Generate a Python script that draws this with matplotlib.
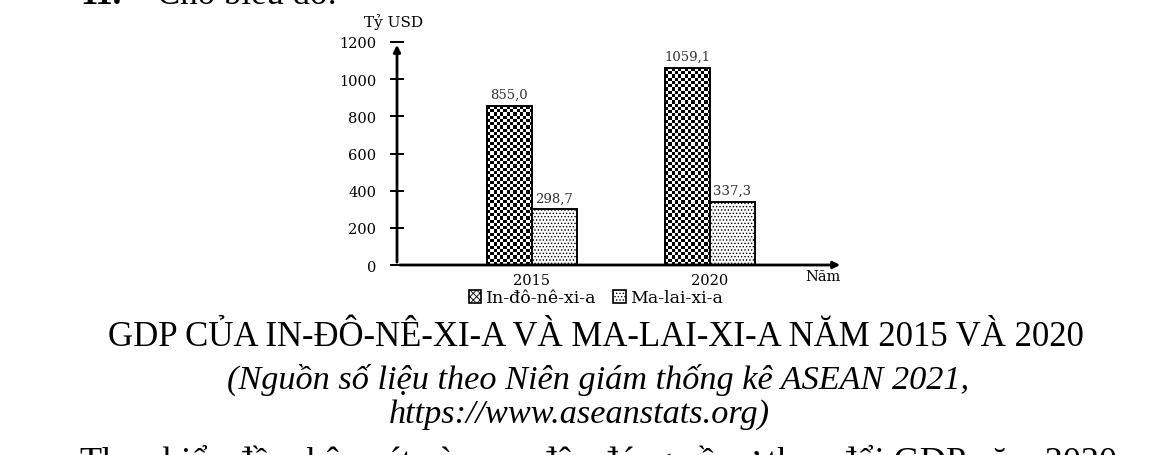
import matplotlib.pyplot as plt
import numpy as np
from matplotlib.patches import Patch

years = ['2015', '2020']
indonesia = [855.0, 1059.1]
malaysia = [298.7, 337.3]
series_names = ['In-đô-nê-xi-a', 'Ma-lai-xi-a']
yticks = [0, 200, 400, 600, 800, 1000, 1200]

title = 'GDP CỦA IN-ĐÔ-NÊ-XI-A VÀ MA-LAI-XI-A NĂM 2015 VÀ 2020'
source1 = '(Nguồn số liệu theo Niên giám thống kê ASEAN 2021,'
source2 = 'https://www.aseanstats.org)'
question_no = '11.'
top_line = 'Cho biểu đồ:'
bottom_line = 'Theo biểu đồ, nhận xét nào sau đây đúng về sự thay đổi GDP năm 2020'

plt.rcParams['font.family'] = ['Liberation Serif', 'DejaVu Serif']
plt.rcParams['hatch.linewidth'] = 0.6
CHART_FONT = ['DejaVu Serif']


def fmt(v):
    return '{:.1f}'.format(v).replace('.', ',')


def checker_fill(ax, bar, cols=14):
    # checkerboard image clipped to the bar
    x0, y0 = bar.get_x(), bar.get_y()
    w, h = bar.get_width(), bar.get_height()
    px_w = ax.transData.transform((w, 0))[0] - ax.transData.transform((0, 0))[0]
    px_h = ax.transData.transform((0, h))[1] - ax.transData.transform((0, 0))[1]
    rows = max(1, int(round(px_h / (px_w / cols))))
    grid = (np.add.outer(np.arange(rows), np.arange(cols)) % 2).astype(float)
    im = ax.imshow(grid, extent=(x0, x0 + w, y0, y0 + h), cmap='gray',
                   interpolation='nearest', aspect='auto', zorder=2)
    im.set_clip_path(bar)


fig = plt.figure(figsize=(11.52, 4.56), dpi=100)
ax = fig.add_axes([397 / 1152, 1 - 266 / 456, (843 - 397) / 1152, (266 - 43) / 456])

x = np.arange(len(years))
w = 0.253
bars1 = ax.bar(x - w / 2, indonesia, w, edgecolor='black',
               linewidth=1.4, zorder=3, fill=False)
bars2 = ax.bar(x + w / 2, malaysia, w, facecolor='white', edgecolor='black',
               linewidth=1.4, hatch='.....', zorder=3)

ax.set_xlim(-0.758, 1.747)
ax.set_ylim(0, 1200)

for b in bars1:
    checker_fill(ax, b)

for b, v in zip(list(bars1) + list(bars2), indonesia + malaysia):
    ax.text(b.get_x() + b.get_width() / 2, v + 28, fmt(v), ha='center', va='bottom',
            fontsize=9.5, color='#333333', family=CHART_FONT)

for s in ax.spines.values():
    s.set_visible(False)
ax.annotate('', xy=(0, 1.0), xytext=(0, 0), xycoords='axes fraction',
            arrowprops=dict(arrowstyle='-|>', color='black', lw=2, mutation_scale=10))
ax.annotate('', xy=(1.0, 0), xytext=(0, 0), xycoords='axes fraction',
            arrowprops=dict(arrowstyle='-|>', color='black', lw=2, mutation_scale=10))

ax.set_yticks(yticks)
ax.set_yticklabels([str(t) for t in yticks], fontsize=10.5, family=CHART_FONT)
ax.tick_params(axis='y', direction='inout', length=10, width=1.4, pad=10)
ax.set_xticks(x)
ax.set_xticklabels(years, fontsize=10.5, family=CHART_FONT)
ax.tick_params(axis='x', length=0, pad=6)

ax.text(-0.007, 1.06, 'Tỷ USD', transform=ax.transAxes, ha='center', va='bottom',
        fontsize=11, family=CHART_FONT)
ax.text(0.955, -0.02, 'Năm', transform=ax.transAxes, ha='center', va='top',
        fontsize=10.5, family=CHART_FONT)

# legend
handles = [Patch(facecolor='white', edgecolor='black', hatch='xxxxx', linewidth=1.2),
           Patch(facecolor='white', edgecolor='black', hatch='.....', linewidth=1.2)]
fig.legend(handles, series_names, loc='center', bbox_to_anchor=(596 / 1152, 1 - 299 / 456),
           ncol=2, frameon=False, prop={'family': CHART_FONT, 'size': 12.5},
           handlelength=0.7, handleheight=0.7, handletextpad=0.25, columnspacing=1.0)

fig.text(596 / 1152, 1 - 338 / 456, title, ha='center', va='center', fontsize=25)
fig.text(598 / 1152, 1 - 380 / 456, source1, ha='center', va='center', fontsize=24.7, style='italic')
fig.text(579 / 1152, 1 - 415 / 456, source2, ha='center', va='center', fontsize=24.7, style='italic')
fig.text(80 / 1152, 1 - 4 / 456, question_no, ha='left', va='baseline', fontsize=25, weight='bold')
fig.text(157 / 1152, 1 - 4 / 456, top_line, ha='left', va='baseline', fontsize=25)
fig.text(80 / 1152, 1 - 462 / 456, bottom_line, ha='left', va='center', fontsize=26)

fig.savefig('out.png', dpi=100)
